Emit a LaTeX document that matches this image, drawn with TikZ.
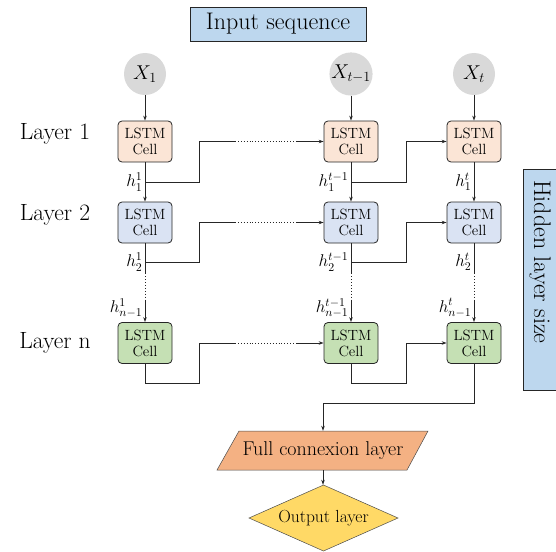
\documentclass[tikz,border=0pt]{standalone}
\usepackage{fix-cm}
\usepackage{fontspec}
\usetikzlibrary{arrows.meta,shapes.geometric}
\definecolor{boxblue}{HTML}{BDD7EE}
\definecolor{rowa}{HTML}{FBE5D6}
\definecolor{rowb}{HTML}{DAE3F3}
\definecolor{rowc}{HTML}{C5E0B4}
\definecolor{inpgray}{HTML}{D9D9D9}
\definecolor{salmon}{HTML}{F4B183}
\definecolor{gold}{HTML}{FFD966}
\tikzset{
  cell/.style={draw=black!85, line width=0.8pt, rounded corners=4pt, minimum width=54pt, minimum height=41pt, inner sep=1pt, align=center, font=\fontsize{14.8}{16}\selectfont},
  inpt/.style={circle, fill=inpgray, minimum size=42pt, inner sep=0pt, font=\fontsize{20}{22}\selectfont},
  titlebox/.style={draw=black!85, line width=0.7pt, fill=boxblue, font=\fontsize{24}{26}\selectfont, inner sep=0pt},
  lay/.style={font=\fontsize{23.5}{26}\selectfont},
  hl/.style={font=\fontsize{17}{19}\selectfont, inner sep=0.5pt},
  conn/.style={line width=0.7pt, draw=black!85},
  arr/.style={conn, -{Stealth[length=5pt,width=3.5pt]}},
  dots/.style={line width=0.9pt, draw=black!85, dotted},
}
\begin{document}
\begin{tikzpicture}[x=1pt,y=-1pt]
\useasboundingbox (0,0) rectangle (556,551);
% title boxes
\node[titlebox, minimum width=176pt, minimum height=34pt] (inseq) at (278,24) {Input sequence};
\node[titlebox, minimum width=34pt, minimum height=221pt] (hid) at (540,279.5) {};
\node[rotate=-90, font=\fontsize{24}{26}\selectfont, inner sep=0pt] (hidtxt) at (540,262) {Hidden layer size};
% inputs
\node[inpt] (x1) at (145,74) {$X_1$};
\node[inpt] (x2) at (351,74) {$X_{t-1}$};
\node[inpt] (x3) at (474,74) {$X_t$};
% layer labels
\node[lay] (l1) at (55,134) {Layer 1};
\node[lay] (l2) at (55,215) {Layer 2};
\node[lay] (l3) at (55,343) {Layer n};
% cells
\foreach \c/\x in {1/145,2/351,3/474}{
  \node[cell, fill=rowa] (a\c) at (\x,141.5) {LSTM\\Cell};
  \node[cell, fill=rowb] (b\c) at (\x,222.5) {LSTM\\Cell};
  \node[cell, fill=rowc] (n\c) at (\x,343) {LSTM\\Cell};
}
% input arrows
\draw[arr] (x1) -- (a1);
\draw[arr] (x2) -- (a2);
\draw[arr] (x3) -- (a3);
% vertical connections layer1 -> layer2
\draw[arr] (a1) -- (b1);
\draw[arr] (a2) -- (b2);
\draw[arr] (a3) -- (b3);
% vertical connections layer2 -> layer n
\foreach \c in {1,2,3}{
  \draw[conn] (b\c.south) -- ++(0,30) coordinate (p\c);
  \draw[dots] (p\c) -- ++(0,27) coordinate (q\c);
  \draw[arr] (q\c) -- (n\c.north);
}
% branch points
\coordinate (ba1) at (145,182);
\coordinate (ba2) at (351,182);
\coordinate (bb1) at (145,262);
\coordinate (bb2) at (351,262);
% layer 1 horizontal
\draw[conn] (ba1) -- (199,182) -- (199,141.5) -- (235,141.5) coordinate (d1);
\draw[dots] (d1) -- (297,141.5) coordinate (e1);
\draw[arr] (e1) -- (a2.west);
\draw[arr] (ba2) -- (406,182) -- (406,141.5) -- (a3.west);
% layer 2 horizontal
\draw[conn] (bb1) -- (199,262) -- (199,222.5) -- (235,222.5) coordinate (d2);
\draw[dots] (d2) -- (297,222.5) coordinate (e2);
\draw[arr] (e2) -- (b2.west);
\draw[arr] (bb2) -- (406,262) -- (406,222.5) -- (b3.west);
% layer n horizontal
\draw[conn] (n1.south) -- (145,383) -- (199,383) -- (199,343) -- (235,343) coordinate (d3);
\draw[dots] (d3) -- (297,343) coordinate (e3);
\draw[arr] (e3) -- (n2.west);
\draw[arr] (n2.south) -- (351,383) -- (406,383) -- (406,343) -- (n3.west);
% h labels
\node[hl, anchor=east] (h11) at (143,182) {$h_1^1$};
\node[hl, anchor=east] (h12) at (349,182) {$h_1^{t-1}$};
\node[hl, anchor=east] (h13) at (472,182) {$h_1^t$};
\node[hl, anchor=east] (h21) at (143,262) {$h_2^1$};
\node[hl, anchor=east] (h22) at (349,262) {$h_2^{t-1}$};
\node[hl, anchor=east] (h23) at (472,262) {$h_2^t$};
\node[hl, anchor=east] (h31) at (143,308) {$h_{n-1}^1$};
\node[hl, anchor=east] (h32) at (349,308) {$h_{n-1}^{t-1}$};
\node[hl, anchor=east] (h33) at (472,308) {$h_{n-1}^t$};
% full connexion layer
\fill[salmon] (239,431) -- (428,431) -- (407,470) -- (217,470) -- cycle;
\draw[line width=0.5pt, black!70] (239,431) -- (428,431) -- (407,470) -- (217,470) -- cycle;
\node[minimum width=170pt, minimum height=39pt, inner sep=0pt, font=\fontsize{20}{22}\selectfont] (fc) at (323,450.5) {Full connexion layer};
% output layer
\fill[gold] (323.5,485) -- (398,518) -- (323.5,551) -- (249,518) -- cycle;
\draw[line width=0.5pt, black!70] (323.5,485) -- (398,518) -- (323.5,551) -- (249,518) -- cycle;
\node[minimum width=100pt, minimum height=66pt, inner sep=0pt, font=\fontsize{17.5}{19}\selectfont] (out) at (323.5,518) {Output layer};
% output connections
\draw[arr] (n3.south) -- (474,403) -- (323,403) -- (fc.north -| 323,0);
\draw[arr] (fc.south -| 323,0) -- (out.north -| 323,0);
\end{tikzpicture}
\end{document}
